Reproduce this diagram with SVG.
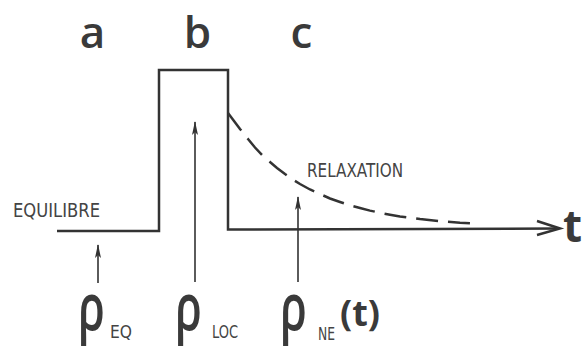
<svg xmlns="http://www.w3.org/2000/svg" width="582" height="350" viewBox="0 0 582 350">
<defs>
<style>
.sig{fill:none;stroke:#333;stroke-width:2.5;stroke-linejoin:miter}
.dash{fill:none;stroke:#333;stroke-width:2.5;stroke-dasharray:22 10}
.arr{fill:none;stroke:#333;stroke-width:1.6}
.big{font-family:"Open Sans","DejaVu Sans",sans-serif;font-weight:600;fill:#3a3a3a}
.heavy{font-weight:700}
.lab{font-family:"DejaVu Sans Condensed","DejaVu Sans",sans-serif;fill:#444}
</style>
<marker id="up" markerWidth="14" markerHeight="8" refX="13" refY="4" orient="auto" markerUnits="userSpaceOnUse">
<path d="M0,1 L14,4 L0,7 L3,4 z" fill="#333"/>
</marker>
</defs>
<rect width="582" height="350" fill="#fff"/>
<g id="label-a"><text class="big" x="92.5" y="48" font-size="44" text-anchor="middle">a</text></g>
<g id="label-b"><text class="big" x="197.5" y="48" font-size="44" text-anchor="middle">b</text></g>
<g id="label-c"><text class="big" x="301.5" y="48" font-size="44" text-anchor="middle">c</text></g>
<g id="signal">
<path class="sig" d="M57,231 L159,231 L159,70 L228,70 L228,229.5 L558,228.5"/>
<path class="sig" stroke-width="3" d="M537,221 L560,228.5 L537,235"/>
<path class="dash" d="M228,113 L234,121 L240,129 L248,139 L255,147.5 L262,155 L270,162 L277,168 L285,174 L292,179 L300,184 L310,189.5 L320,194 L330,198.5 L340,202 L350,205.3 L360,208 L370,210.6 L380,212.8 L390,214.7 L400,216.4 L420,219.1 L440,221.2 L460,222.8 L476,223.7"/>
</g>
<g id="time-label"><text class="big heavy" x="563" y="242" font-size="44">t</text></g>
<g id="equilibre"><text class="lab" x="13" y="217" font-size="20" textLength="87" lengthAdjust="spacingAndGlyphs">EQUILIBRE</text></g>
<g id="relaxation"><text class="lab" x="307" y="177" font-size="20" textLength="96" lengthAdjust="spacingAndGlyphs">RELAXATION</text></g>
<g id="connectors">
<line class="arr" x1="98" y1="283" x2="98" y2="245" marker-end="url(#up)"/>
<line class="arr" x1="195" y1="282" x2="195" y2="122" marker-end="url(#up)"/>
<line class="arr" x1="298" y1="282" x2="298" y2="197" marker-end="url(#up)"/>
</g>
<g id="rho-eq">
<text class="big" font-size="44" transform="translate(78,330) scale(1,1.5)">ρ</text>
<text class="lab" x="110" y="338" font-size="18" textLength="22" lengthAdjust="spacingAndGlyphs">EQ</text>
</g>
<g id="rho-loc">
<text class="big" font-size="44" transform="translate(175,330) scale(1,1.5)">ρ</text>
<text class="lab" x="212" y="338" font-size="18" textLength="26" lengthAdjust="spacingAndGlyphs">LOC</text>
</g>
<g id="rho-ne">
<text class="big" font-size="44" transform="translate(280,330) scale(1,1.5)">ρ</text>
<text class="lab" x="318" y="340" font-size="18" textLength="17" lengthAdjust="spacingAndGlyphs">NE</text>
<text class="big heavy" x="340" y="326" font-size="36">(t)</text>
</g>
</svg>
